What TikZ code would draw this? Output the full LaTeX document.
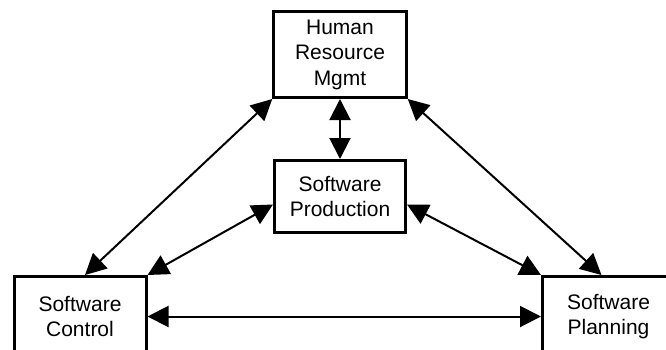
\documentclass[tikz,border=0pt]{standalone}
\usepackage{fontspec}
\setmainfont{Liberation Sans}
\usetikzlibrary{arrows.meta}

\begin{document}
\begin{tikzpicture}[x=1pt,y=-1pt,
    box/.style={draw, line width=3pt, align=center, inner sep=0pt,
      font=\fontsize{21}{25.5}\selectfont},
    link/.style={line width=2pt, {Triangle[length=21pt,width=21pt]}-{Triangle[length=21pt,width=21pt]}}
  ]
  \fill[white] (0,0) rectangle (666,349);
  \clip (0,0) rectangle (666,349);
  % the four units
  \node[box, minimum width=132.5pt, minimum height=86pt] (hrm) at (340,54.5)
    {Human\\Resource\\Mgmt};
  \node[box, minimum width=131pt, minimum height=72pt] (prod) at (340,196.5)
    {Software\\Production};
  \node[box, minimum width=132pt, minimum height=80pt] (ctrl) at (80,316.5)
    {Software\\Control};
  \node[box, minimum width=132pt, minimum height=80pt] (plan) at (608.5,316.5)
    {Software\\Planning};
  % links between them
  \draw[link] (hrm) -- (prod);
  \draw[link] ([xshift=5pt]ctrl.north) -- (hrm.south west);
  \draw[link] (ctrl.north east) -- ([yshift=-8pt]prod.west);
  \draw[link] (hrm.south east) -- ([xshift=-7pt]plan.north);
  \draw[link] ([yshift=-8pt]prod.east) -- (plan.north west);
  \draw[link] (ctrl) -- (plan);
\end{tikzpicture}
\end{document}
